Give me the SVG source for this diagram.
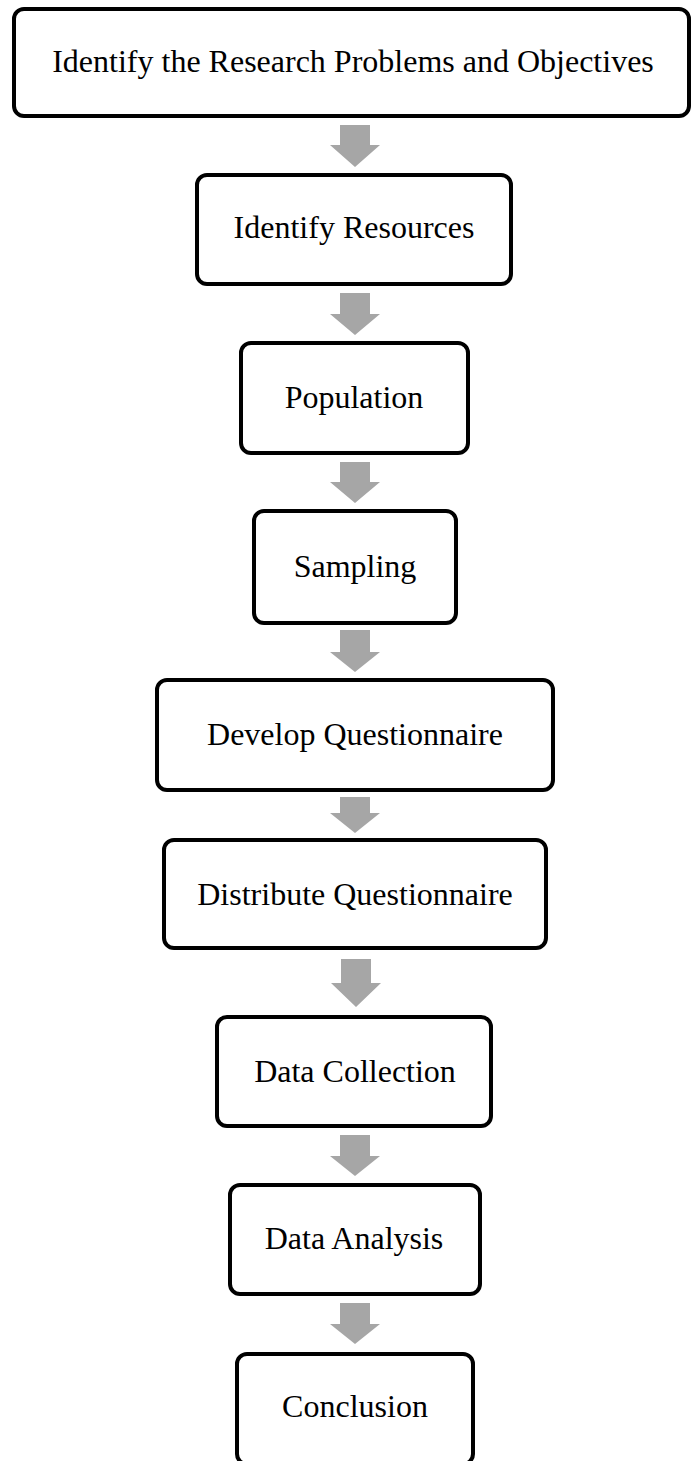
<svg xmlns="http://www.w3.org/2000/svg" width="691" height="1461" viewBox="0 0 691 1461">
<style>
.box{fill:#fff;stroke:#000;stroke-width:4}
.lbl{font-family:"Liberation Serif","Times New Roman",serif;font-size:32px;fill:#000;text-anchor:middle}
.arr{fill:#a6a6a6}
</style>
<rect width="691" height="1461" fill="#fff"/>
<g id="connectors">
<path class="arr" d="M340 125H370V145H380L355 167L330 145H340Z"/>
<path class="arr" d="M340 293H370V314H380L355 335L330 314H340Z"/>
<path class="arr" d="M340 462H370V482H380L355 503L330 482H340Z"/>
<path class="arr" d="M340 630H370V652H380L355 672L330 652H340Z"/>
<path class="arr" d="M340 797H370V813H380L355 833L330 813H340Z"/>
<path class="arr" d="M341 959H371V983H381L356 1007L331 983H341Z"/>
<path class="arr" d="M340 1135H370V1156H380L355 1176L330 1156H340Z"/>
<path class="arr" d="M340 1303H370V1324H380L355 1344L330 1324H340Z"/>
</g>
<g id="n1"><rect class="box" x="14" y="9" width="675" height="107" rx="10"/><text class="lbl" x="353" y="72">Identify the Research Problems and Objectives</text></g>
<g id="n2"><rect class="box" x="197" y="175" width="314" height="109" rx="10"/><text class="lbl" x="354" y="238">Identify Resources</text></g>
<g id="n3"><rect class="box" x="241" y="343" width="227" height="110" rx="10"/><text class="lbl" x="354" y="408">Population</text></g>
<g id="n4"><rect class="box" x="254" y="511" width="202" height="112" rx="10"/><text class="lbl" x="355" y="577">Sampling</text></g>
<g id="n5"><rect class="box" x="157" y="680" width="396" height="110" rx="10"/><text class="lbl" x="355" y="745">Develop Questionnaire</text></g>
<g id="n6"><rect class="box" x="164" y="840" width="382" height="108" rx="10"/><text class="lbl" x="355" y="905">Distribute Questionnaire</text></g>
<g id="n7"><rect class="box" x="217" y="1017" width="274" height="109" rx="10"/><text class="lbl" x="355" y="1082">Data Collection</text></g>
<g id="n8"><rect class="box" x="230" y="1185" width="250" height="109" rx="10"/><text class="lbl" x="354" y="1249">Data Analysis</text></g>
<g id="n9"><rect class="box" x="237" y="1354" width="236" height="110" rx="10"/><text class="lbl" x="355" y="1417">Conclusion</text></g>
</svg>
